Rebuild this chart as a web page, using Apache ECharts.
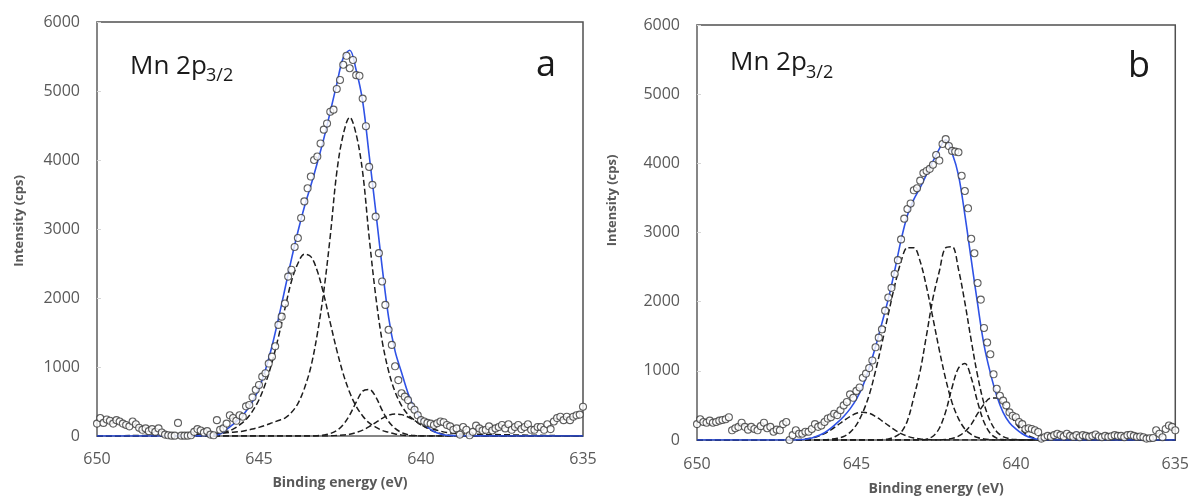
<!DOCTYPE html>
<html><head><meta charset="utf-8">
<script src="https://cdn.jsdelivr.net/npm/echarts/dist/echarts.min.js"></script>
<style>html,body{margin:0;padding:0;background:#fff}#c{width:1192px;height:501px}</style>
</head><body><div id="c"></div>
<script>
// Binding energy grid of measured points (eV)
const energies = [
650,649.9,649.8,649.7,649.6,649.5,649.4,649.3,649.2,649.1,
649,648.9,648.8,648.7,648.6,648.5,648.4,648.3,648.2,648.1,
648,647.9,647.8,647.7,647.6,647.5,647.4,647.3,647.2,647.1,
647,646.9,646.8,646.7,646.6,646.5,646.4,646.3,646.2,646.1,
646,645.9,645.8,645.7,645.6,645.5,645.4,645.3,645.2,645.1,
645,644.9,644.8,644.7,644.6,644.5,644.4,644.3,644.2,644.1,
644,643.9,643.8,643.7,643.6,643.5,643.4,643.3,643.2,643.1,
643,642.9,642.8,642.7,642.6,642.5,642.4,642.3,642.2,642.1,
642,641.9,641.8,641.7,641.6,641.5,641.4,641.3,641.2,641.1,
641,640.9,640.8,640.7,640.6,640.5,640.4,640.3,640.2,640.1,
640,639.9,639.8,639.7,639.6,639.5,639.4,639.3,639.2,639.1,
639,638.9,638.8,638.7,638.6,638.5,638.4,638.3,638.2,638.1,
638,637.9,637.8,637.7,637.6,637.5,637.4,637.3,637.2,637.1,
637,636.9,636.8,636.7,636.6,636.5,636.4,636.3,636.2,636.1,
636,635.9,635.8,635.7,635.6,635.5,635.4,635.3,635.2,635.1,
635];

// Measured intensity (cps), panel a
const countsA = [
180,260,190,240,220,180,230,210,180,160,
140,210,170,120,90,110,70,100,60,110,
50,20,10,5,5,190,5,5,5,10,
60,100,80,50,70,20,10,230,90,110,
180,300,260,220,300,280,430,450,560,670,
740,860,910,1050,1150,1300,1610,1730,1920,2310,
2410,2740,2870,3160,3400,3590,3760,4000,4050,4240,
4440,4530,4700,4730,5030,5160,5380,5510,5330,5450,
5230,5220,4890,4490,3900,3640,3180,2650,2240,1900,
1540,1320,1010,810,620,570,520,430,380,300,
230,210,190,180,160,185,210,200,160,140,
90,110,20,130,90,10,60,150,110,80,
90,140,80,110,130,160,110,170,90,130,
160,100,130,170,90,90,130,130,90,170,
100,210,260,280,230,280,230,280,300,310,
425];

// Measured intensity (cps), panel b
const countsB = [
230,300,260,250,280,250,260,280,290,300,
330,140,170,190,250,190,150,190,160,140,
200,250,170,190,120,150,140,230,260,0,
70,140,90,90,120,120,160,230,190,210,
260,310,330,380,360,430,500,550,660,610,
710,760,900,960,1040,1150,1340,1480,1600,1870,
2060,2200,2400,2600,2900,3200,3340,3420,3610,3640,
3750,3860,3890,3920,3980,4120,4040,4280,4350,4250,
4180,4170,4160,3820,3600,3350,2910,2700,2270,2030,
1620,1410,1240,950,740,640,570,500,400,350,
330,260,230,160,170,160,140,115,20,40,
60,45,70,90,70,50,90,60,45,70,
40,70,60,45,60,80,50,40,60,45,
55,70,60,60,40,70,75,60,45,50,
40,20,25,30,140,90,40,160,210,190,
140];

// Energy grid for the fitted curves (eV)
const fitE = [650,647.6,647.4,647.2,647.0,646.8,646.6,646.4,646.2,646.0,
645.8,645.6,645.4,645.2,645.0,644.8,644.6,644.4,644.2,644.0,
643.8,643.6,643.4,643.2,643.0,642.8,642.6,642.4,642.2,642.0,
641.8,641.6,641.4,641.2,641.0,640.8,640.6,640.4,640.2,640.0,
639.8,639.6,639.4,639.2,639.0,638.8,635];

// Panel a: envelope and components
const envA = [0,0,0,0,0,2,5,12,30,95,170,250,360,500,690,960,1300,1700,2130,2560,2960,3320,3630,3960,4310,4700,5100,5480,5590,5300,4850,4070,3270,2450,1720,1230,920,620,400,240,130,65,30,12,5,2,0];
const a1 = [0,0,0,0,2,5,12,22,40,62,100,160,240,360,525,760,1065,1435,1845,2240,2500,2635,2600,2390,2050,1640,1245,900,630,430,290,190,130,80,55,30,15,6,2,0,0,0,0,0,0,0,0];
const a2 = [0,15,17,20,24,28,32,36,40,46,55,63,80,100,125,155,190,225,260,340,470,690,1000,1480,2100,2900,3820,4370,4620,4370,3820,2880,2040,1380,940,640,440,310,230,160,120,95,70,50,40,30,0];
const a3 = [0,0,0,0,0,0,0,0,0,0,0,0,0,0,0,0,0,0,0,0,0,0,0,4,14,35,80,165,305,490,650,675,570,375,210,110,50,20,6,0,0,0,0,0,0,0,0];
const a4 = [0,0,0,0,0,0,0,0,0,0,0,0,0,0,0,0,0,0,0,0,0,0,0,0,0,2,8,13,24,50,85,135,195,255,300,318,310,275,225,165,110,65,35,17,8,3,0];

// Panel b: envelope and components
const envB = [0,0,0,0,0,3,10,30,60,105,170,250,340,450,590,780,1040,1350,1690,2040,2450,2890,3250,3480,3650,3840,4030,4210,4340,4150,3830,3260,2610,1970,1380,970,640,400,250,160,90,45,18,6,0,0,0];
const b1 = [0,0,0,0,0,0,0,0,0,4,12,25,50,110,220,400,650,1000,1400,1820,2230,2580,2780,2780,2580,2210,1760,1300,880,540,310,160,80,35,15,5,0,0,0,0,0,0,0,0,0,0,0];
const b2 = [0,0,0,0,0,0,0,0,0,0,0,0,0,0,0,0,0,0,5,15,45,110,280,620,1000,1520,2050,2440,2780,2795,2470,1990,1440,930,530,270,120,50,18,6,0,0,0,0,0,0,0];
const b3 = [0,0,0,0,0,0,0,0,0,0,0,0,0,0,0,0,0,0,0,0,0,0,0,0,0,12,55,170,410,760,1040,1105,900,550,260,95,28,6,0,0,0,0,0,0,0,0,0];
const b4 = [0,0,0,0,0,0,0,0,0,0,0,0,0,0,0,0,0,0,0,0,0,0,0,0,0,0,0,0,7,22,55,120,225,380,515,605,608,520,390,240,130,60,25,8,0,0,0];
const b5 = [0,0,0,0,3,7,15,29,54,93,146,210,278,340,386,402,386,340,278,210,146,93,54,29,15,7,3,0,0,0,0,0,0,0,0,0,0,0,0,0,0,0,0,0,0,0,0];

const xTicks = [650, 645, 640, 635];
const yTicks = [0, 1000, 2000, 3000, 4000, 5000, 6000];

const FONT = 'Open Sans';
const GRAY = '#595959';
const zip = (xs, ys) => xs.map((x, i) => [x, ys[i]]);

function xAxis(gi, gap, margin) {
  return {
    gridIndex: gi, type: 'value', inverse: true,
    min: xTicks[xTicks.length - 1], max: xTicks[0], interval: 5,
    name: 'Binding energy (eV)', nameLocation: 'middle', nameGap: gap,
    nameTextStyle: { fontFamily: FONT, fontWeight: 'bold', fontSize: 14, color: GRAY },
    axisLine: { show: true, onZero: false, lineStyle: { color: '#8a8a8a', width: 1.5 } },
    axisTick: { show: false },
    axisLabel: { fontFamily: FONT, fontSize: 16, color: GRAY, margin: margin, formatter: v => String(v) },
    splitLine: { show: false }
  };
}
function yAxis(gi, gap, pad) {
  return {
    gridIndex: gi, type: 'value',
    min: yTicks[0], max: yTicks[yTicks.length - 1], interval: 1000,
    name: 'Intensity (cps)', nameLocation: 'middle', nameGap: gap,
    nameTextStyle: { fontFamily: FONT, fontWeight: 'bold', fontSize: 13, color: GRAY, padding: [0, 0, 0, pad] },
    axisLine: { show: true, lineStyle: { color: '#8a8a8a', width: 1.5 } },
    axisTick: { show: true, inside: true, length: 4, lineStyle: { color: '#d6d6d6' } },
    axisLabel: { fontFamily: FONT, fontSize: 16, color: GRAY, margin: 17, formatter: v => String(v) },
    splitLine: { show: false }
  };
}
function comp(gi, data) {
  return {
    type: 'line', xAxisIndex: gi, yAxisIndex: gi, data: zip(fitE, data),
    symbol: 'none', smooth: 0.35, silent: true, z: 2,
    lineStyle: { color: '#1e1e1e', width: 1.5, type: [6, 3] }
  };
}
function env(gi, data) {
  return {
    type: 'line', xAxisIndex: gi, yAxisIndex: gi, data: zip(fitE, data),
    symbol: 'none', smooth: 0.35, silent: true, z: 3,
    lineStyle: { color: '#2f52e6', width: 1.6 }
  };
}
function pts(gi, data) {
  return {
    type: 'scatter', xAxisIndex: gi, yAxisIndex: gi, data: zip(energies, data),
    symbol: 'circle', symbolSize: 7, z: 4, silent: true,
    itemStyle: { color: '#ffffff', borderColor: '#383838', borderWidth: 1.1 }
  };
}
function txt(x, y, s, size, align) {
  return { type: 'text', x: x, y: y, z: 10, silent: true,
    style: { text: s, font: size + 'px "' + FONT + '"', fill: '#1a1a1a',
      textAlign: align || 'left', textVerticalAlign: 'middle', verticalAlign: 'middle' } };
}

const chart = echarts.init(document.getElementById('c'), null, { renderer: 'canvas' });
chart.setOption({
  animation: false,
  backgroundColor: '#ffffff',
  grid: [
    { left: 97, top: 22, width: 486, height: 414, show: true, borderColor: '#505050', borderWidth: 1.5, containLabel: false },
    { left: 697, top: 25, width: 480, height: 418, show: true, borderColor: '#505050', borderWidth: 1.5, containLabel: false }
  ],
  xAxis: [xAxis(0, 40, 15), xAxis(1, 42, 16)],
  yAxis: [yAxis(0, 71, 16), yAxis(1, 78, 64)],
  series: [
    comp(0, a1), comp(0, a2), comp(0, a3), comp(0, a4), env(0, envA), pts(0, countsA),
    comp(1, b1), comp(1, b2), comp(1, b3), comp(1, b4), comp(1, b5), env(1, envB), pts(1, countsB)
  ],
  graphic: [
    txt(130, 67, 'Mn 2p', 26), txt(206, 76, '3/2', 18), txt(546, 66, 'a', 36, 'center'),
    txt(730, 63, 'Mn 2p', 26), txt(806, 73, '3/2', 18), txt(1139, 67, 'b', 36, 'center')
  ]
});
</script></body></html>
